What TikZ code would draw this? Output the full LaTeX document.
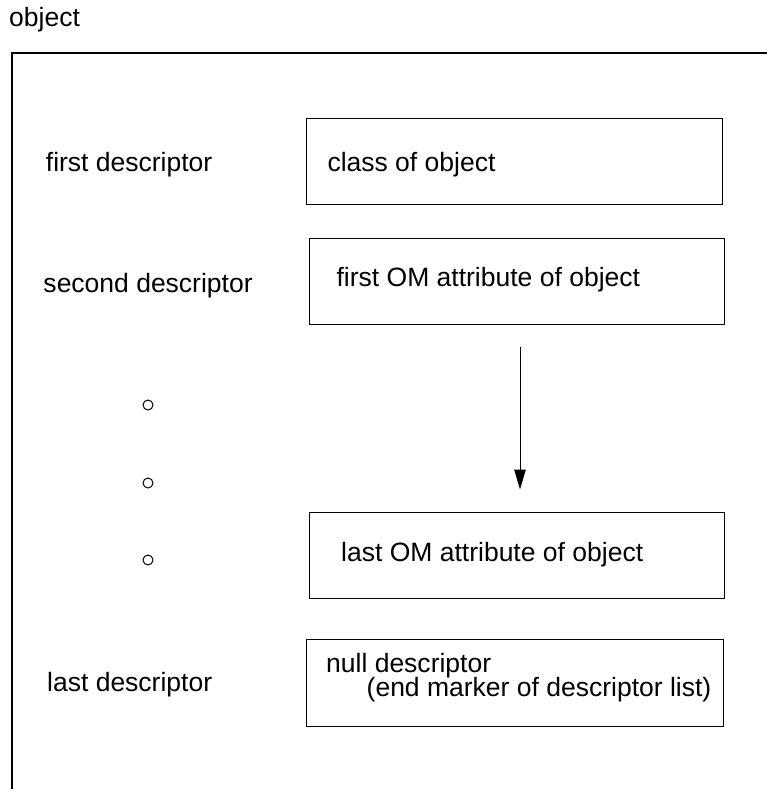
\documentclass[tikz,border=0pt]{standalone}
\usepackage{fontspec}
\setmainfont{Liberation Sans}
\usetikzlibrary{arrows.meta,calc}
\begin{document}
\begin{tikzpicture}[x=1bp,y=-1bp,
  every node/.style={font=\fontsize{26.6}{25}\selectfont},
  label text/.style={anchor=base west, inner sep=0pt},
  field/.style={draw, line width=1bp, minimum height=86bp, inner sep=0pt},
  dot/.style={circle, draw, line width=1bp, minimum size=10bp, inner sep=0pt},
  frame/.style={line width=1.3bp},
  link/.style={line width=1bp, -{Triangle[length=20bp,width=11.5bp]}}]
\useasboundingbox (0,0) rectangle (767,789);

% object frame: open on the right and at the bottom
\node[label text] (title) at (9,26.7) {object};
\coordinate (frameTR) at (767,53);
\coordinate (frameBL) at (12,789);
\draw[frame] (frameTR) -| (frameBL);

% descriptor names
\node[label text] (firstdesc)  at (45.7,171.7) {first descriptor};
\node[label text] (seconddesc) at (43.3,292.2) {second descriptor};
\node[label text] (lastdesc)   at (47,691)     {last descriptor};

% ellipsis marks
\node[dot] (dot1) at (148,405) {};
\node[dot] (dot2) at (148,483) {};
\node[dot] (dot3) at (148,560) {};

% descriptor fields
\node[field, minimum width=415.6bp] (box1) at (514.5,161.3) {};
\node[field, minimum width=415bp]   (box2) at (516.5,281)   {};
\node[field, minimum width=415bp]   (box3) at (516.5,555)   {};
\node[field, minimum width=417.3bp, minimum height=87bp] (box4) at (515.3,682.5) {};

% field contents
\node[label text] (box1text) at (327.3,171.7) {class of object};
\node[label text] (box2text) at (336.4,286.7) {first OM attribute of object};
\node[label text] (box3text) at (341,561.7)   {last OM attribute of object};
\node[label text] (box4text) at (326,672)     {null descriptor};
\node[label text] (box4note) at (366.5,696.5) {(end marker of descriptor list)};

% sequence of attributes
\coordinate (axis) at (520,0);
\draw[link, shorten <=22bp, shorten >=22bp] (box2.south -| axis) -- (box3.north -| axis);
\end{tikzpicture}
\end{document}
